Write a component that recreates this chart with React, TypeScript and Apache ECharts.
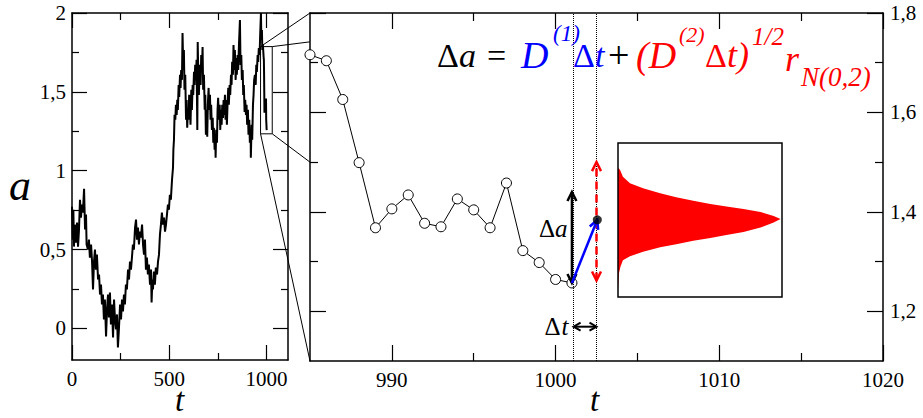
import React, { useEffect, useRef } from "react";
import * as echarts from "echarts";

// ---------- data ----------
const trajectory: [number, number][] = [
  [0, 0.772], [4, 0.563], [7, 0.753], [10, 0.519], [15, 0.658], [21, 0.544], [26, 0.671], [31, 0.519],
  [36, 0.627], [41, 0.816], [46, 0.703], [51, 0.785], [56, 0.734], [62, 0.886], [67, 0.627], [72, 0.722],
  [75, 0.532], [82, 0.5], [87, 0.563], [92, 0.449], [98, 0.532], [103, 0.424], [108, 0.247], [113, 0.424],
  [118, 0.5], [123, 0.373], [128, 0.468], [134, 0.31], [139, 0.342], [144, 0.215], [149, 0.278], [154, 0.152],
  [159, 0.215], [164, 0.057], [169, 0.184], [175, -0.051], [180, 0.12], [185, 0.215], [190, 0.07], [195, 0.228],
  [200, 0.025], [205, 0.152], [211, -0.057], [216, 0.184], [221, 0.057], [226, -0.006], [231, 0.089], [236, -0.12],
  [241, -0.006], [247, 0.152], [252, 0.057], [257, 0.184], [262, 0.108], [267, 0.215], [272, 0.152], [277, 0.278],
  [282, 0.247], [288, 0.373], [293, 0.31], [298, 0.424], [303, 0.373], [308, 0.449], [313, 0.532], [318, 0.5],
  [324, 0.639], [329, 0.69], [334, 0.563], [339, 0.639], [344, 0.532], [349, 0.614], [354, 0.576], [360, 0.658],
  [365, 0.532], [370, 0.468], [375, 0.563], [380, 0.373], [385, 0.449], [390, 0.342], [395, 0.405], [401, 0.278],
  [406, 0.373], [409, 0.165], [413, 0.31], [416, 0.247], [421, 0.361], [426, 0.278], [431, 0.386], [437, 0.342],
  [442, 0.424], [447, 0.468], [452, 0.595], [457, 0.658], [462, 0.734], [467, 0.658], [473, 0.703], [478, 0.614],
  [483, 0.658], [488, 0.722], [493, 0.785], [498, 0.753], [503, 0.848], [508, 0.816], [514, 0.943], [519, 1.019],
  [521, 1.133], [524, 1.196], [527, 1.354], [531, 1.323], [534, 1.418], [538, 1.354], [541, 1.449], [544, 1.386],
  [548, 1.544], [551, 1.468], [555, 1.608], [558, 1.525], [561, 1.639], [565, 1.576], [568, 1.873], [572, 1.639],
  [575, 1.766], [578, 1.513], [582, 1.608], [586, 1.323], [589, 1.449], [592, 1.272], [596, 1.386], [599, 1.323],
  [602, 1.481], [606, 1.418], [609, 1.291], [613, 1.513], [616, 1.386], [620, 1.544], [623, 1.481], [627, 1.627],
  [630, 1.544], [633, 1.671], [637, 1.576], [640, 1.703], [644, 1.259], [646, 1.816], [649, 1.608], [652, 1.481],
  [657, 1.671], [661, 1.544], [664, 1.734], [668, 1.639], [671, 1.785], [674, 1.513], [678, 1.608], [682, 1.386],
  [685, 1.481], [688, 1.228], [692, 1.386], [695, 1.215], [698, 1.418], [702, 1.525], [705, 1.386], [709, 1.481],
  [712, 1.323], [715, 1.418], [719, 1.259], [723, 1.335], [726, 1.177], [729, 1.272], [733, 1.133], [736, 1.228],
  [738, 1.082], [741, 1.259], [745, 1.177], [748, 1.386], [751, 1.462], [755, 1.323], [759, 1.418], [762, 1.259],
  [765, 1.386], [769, 1.291], [772, 1.418], [776, 1.335], [779, 1.449], [782, 1.354], [786, 1.481], [789, 1.323],
  [792, 1.449], [796, 1.291], [800, 1.449], [803, 1.525], [806, 1.418], [810, 1.544], [813, 1.481], [817, 1.608],
  [820, 1.544], [823, 1.69], [827, 1.608], [830, 1.797], [834, 1.639], [837, 1.766], [841, 1.576], [844, 1.715],
  [847, 1.608], [851, 1.734], [854, 1.639], [858, 1.797], [863, 1.956], [866, 1.671], [870, 1.734], [873, 1.576],
  [877, 1.639], [880, 1.481], [883, 1.544], [887, 1.373], [890, 1.449], [894, 1.354], [897, 1.418], [900, 1.291],
  [904, 1.386], [907, 1.228], [911, 1.323], [914, 1.177], [918, 1.259], [919, 1.082], [923, 1.291], [926, 1.196],
  [930, 1.418], [933, 1.481], [936, 1.576], [940, 1.608], [944, 1.544], [947, 1.671], [950, 1.627], [954, 1.734],
  [957, 1.69], [960, 1.778], [964, 1.734], [967, 1.861], [971, 2.0], [973, 1.829], [976, 1.892], [978, 1.766],
  [981, 1.797],
];

const zoomT = [985, 986, 987, 988, 989, 990, 991, 992, 993, 994, 995, 996, 997, 998, 999, 1000, 1001];
const zoomA = [1.716, 1.704, 1.626, 1.499, 1.368, 1.406, 1.434, 1.377, 1.37, 1.426, 1.404, 1.368, 1.458, 1.322, 1.298, 1.264, 1.257];

const forecastPoint: [number, number] = [1002.55, 1.384];
const stepStart = 1001.1;
const stepEnd = 1002.5;
const deltaARange = [1.257, 1.44];
const noiseRange = [1.262, 1.5];
const dtLevel = 1.169;

// probability profile of the noise term (a value, relative density)
const pdfA = [1.487, 1.483, 1.469, 1.456, 1.446, 1.436, 1.428, 1.421, 1.414, 1.409, 1.404, 1.398, 1.39, 1.384,
  1.377, 1.367, 1.358, 1.352, 1.346, 1.34, 1.333, 1.327, 1.318, 1.309, 1.301, 1.288, 1.275, 1.243];
const pdfDensity = [0, 0.012, 0.03, 0.073, 0.153, 0.257, 0.355, 0.459, 0.563, 0.661, 0.765, 0.869, 0.949, 0.991,
  0.949, 0.869, 0.765, 0.661, 0.563, 0.459, 0.355, 0.257, 0.153, 0.073, 0.03, 0.015, 0.006, 0.0];

// zoom rectangle drawn in the left panel
const zoomBoxT = [969, 1029];
const zoomBoxA = [1.234, 1.787];

// ticks
const leftXMajor = [0, 500, 1000];
const leftXMinor = [250, 750];
const leftYMajor = [0, 0.5, 1, 1.5, 2];
const leftYMinor = [0.25, 0.75, 1.25, 1.75];
const rightXMajor = [990, 1000, 1010, 1020];
const rightXMinor = [995, 1005, 1015];
const rightYMajor = [1.2, 1.4, 1.6, 1.8];
const rightYMinor = [1.3, 1.5, 1.7];

const SERIF = "'Liberation Serif', 'Times New Roman', serif";
const fmt = (v: number) => String(v).replace(".", ",");

function axis(grid: number, position: string, min: number, max: number, ticks: number[], len: number,
  line: boolean, labels?: number[], margin = 8) {
  return {
    type: "value", gridIndex: grid, position, min, max,
    axisLine: { show: line, onZero: false, lineStyle: { color: "#000", width: 1.5 } },
    axisTick: { show: ticks.length > 0, inside: true, length: len, customValues: ticks, lineStyle: { color: "#000", width: 1.2 } },
    axisLabel: labels
      ? { show: true, customValues: labels, formatter: fmt, fontFamily: SERIF, fontSize: 21, color: "#000", margin }
      : { show: false },
    splitLine: { show: false },
    minorTick: { show: false },
  };
}

function head(tip: number[], from: number[], len = 9, half = 4.5) {
  const dx = tip[0] - from[0], dy = tip[1] - from[1];
  const L = Math.hypot(dx, dy) || 1;
  const ux = dx / L, uy = dy / L;
  const bx = tip[0] - ux * len, by = tip[1] - uy * len;
  return [[bx - uy * half, by + ux * half], [tip[0], tip[1]], [bx + uy * half, by - ux * half]];
}

function txt(text: string, x: number, baseline: number, size: number, color: string, italic: boolean, z = 20) {
  return {
    type: "text", z, silent: true,
    style: {
      text, x, y: baseline - 0.34 * size, fill: color, align: "left", verticalAlign: "middle",
      lineHeight: Math.round(size * 0.72),
      font: `${italic ? "italic " : ""}normal ${size}px ${SERIF}`,
    },
  };
}

export default function App() {
  const ref = useRef<HTMLDivElement>(null);
  useEffect(() => {
    document.body.style.margin = "0";
    const chart = echarts.init(ref.current!, null, { renderer: "svg" });
    const option: any = {
      animation: false,
      backgroundColor: "#fff",
      grid: [
        { left: 72, top: 13, width: 216, height: 347 },
        { left: 310, top: 13, width: 573, height: 348 },
        { left: 618, top: 143, width: 164, height: 154, show: true, borderColor: "#000", borderWidth: 1.5, backgroundColor: "transparent", z: 3 },
      ],
      xAxis: [
        axis(0, "bottom", 0, 1110, leftXMajor, 15, true, leftXMajor, 8),
        axis(0, "bottom", 0, 1110, leftXMinor, 7, false),
        axis(0, "top", 0, 1110, leftXMajor, 15, true),
        axis(0, "top", 0, 1110, leftXMinor, 7, false),
        axis(1, "bottom", 985, 1020, rightXMajor, 16, true, rightXMajor, 8),
        axis(1, "bottom", 985, 1020, rightXMinor, 8, false),
        axis(1, "top", 985, 1020, rightXMajor, 16, true),
        axis(1, "top", 985, 1020, rightXMinor, 8, false),
        { type: "value", gridIndex: 2, min: 0, max: 1, show: false },
      ],
      yAxis: [
        axis(0, "left", -0.2, 2, leftYMajor, 15, true, leftYMajor, 6),
        axis(0, "left", -0.2, 2, leftYMinor, 7, false),
        axis(0, "right", -0.2, 2, leftYMajor, 15, true),
        axis(0, "right", -0.2, 2, leftYMinor, 7, false),
        axis(1, "left", 1.1, 1.8, rightYMajor, 16, true),
        axis(1, "left", 1.1, 1.8, rightYMinor, 8, false),
        axis(1, "right", 1.1, 1.8, rightYMajor, 16, true, rightYMajor, 7),
        axis(1, "right", 1.1, 1.8, rightYMinor, 8, false),
        { type: "value", gridIndex: 2, min: 1.227, max: 1.537, show: false },
      ],
      series: [
        {
          type: "line", xAxisIndex: 0, yAxisIndex: 0, showSymbol: false, symbol: "none",
          data: [...trajectory, ...zoomT.map((t, i) => [t, zoomA[i]])],
          lineStyle: { color: "#000", width: 2 }, z: 2,
        },
        {
          type: "line", xAxisIndex: 4, yAxisIndex: 4, clip: false,
          data: zoomT.map((t, i) => [t, zoomA[i]]),
          symbol: "circle", symbolSize: 10, showSymbol: true,
          itemStyle: { color: "#fff", borderColor: "#000", borderWidth: 1 },
          lineStyle: { color: "#000", width: 1 }, z: 4,
          markLine: {
            silent: true, symbol: ["none", "none"], label: { show: false },
            lineStyle: { type: "dotted", color: "#000", width: 1 },
            data: [{ xAxis: stepStart }, { xAxis: stepEnd }],
          },
        },
        {
          type: "scatter", xAxisIndex: 4, yAxisIndex: 4, data: [forecastPoint],
          symbolSize: 9, itemStyle: { color: "#000" }, z: 30,
        },
        {
          type: "custom", xAxisIndex: 8, yAxisIndex: 8, clip: true,
          data: pdfA.map((a, i) => [pdfDensity[i], a]),
          renderItem: (params: any, api: any) => {
            if (params.dataIndex !== 0) return { type: "group", children: [] };
            const pts = pdfA.map((a, i) => api.coord([pdfDensity[i], a]));
            const b0 = api.coord([0, pdfA[0]]);
            const b1 = api.coord([0, pdfA[pdfA.length - 1]]);
            return { type: "polygon", shape: { points: [b0, ...pts, b1] }, style: { fill: "#ff0000", stroke: "none" } };
          },
          z: 2,
        },
      ],
    };
    chart.setOption(option);

    const L = (p: number[]) => chart.convertToPixel({ xAxisIndex: 0, yAxisIndex: 0 }, p) as number[];
    const R = (p: number[]) => chart.convertToPixel({ xAxisIndex: 4, yAxisIndex: 4 }, p) as number[];
    const ln = { stroke: "#000", lineWidth: 1 };

    const bTL = L([zoomBoxT[0], zoomBoxA[1]]);
    const bBR = L([zoomBoxT[1], zoomBoxA[0]]);
    const g: any[] = [];
    g.push({ type: "rect", z: 10, shape: { x: bTL[0], y: bTL[1], width: bBR[0] - bTL[0], height: bBR[1] - bTL[1] }, style: { fill: "none", ...ln } });
    const conn = [
      [[zoomBoxT[0], zoomBoxA[1]], [985, 1.8]],
      [[zoomBoxT[1], zoomBoxA[1]], [985, 1.742]],
      [[zoomBoxT[1], zoomBoxA[0]], [985, 1.5]],
      [[zoomBoxT[0], zoomBoxA[0]], [985, 1.1]],
    ];
    conn.forEach(([a, b]) => {
      const p = L(a), q = R(b);
      g.push({ type: "line", z: 10, shape: { x1: p[0], y1: p[1], x2: q[0], y2: q[1] }, style: ln });
    });

    // delta a arrow (black)
    const da0 = R([zoomT[zoomT.length - 1], deltaARange[0]]);
    const da1 = R([zoomT[zoomT.length - 1], deltaARange[1]]);
    const blk = { stroke: "#000", lineWidth: 2.5, fill: "none" };
    g.push({ type: "line", z: 12, shape: { x1: da0[0], y1: da0[1], x2: da1[0], y2: da1[1] }, style: blk });
    g.push({ type: "polyline", z: 12, shape: { points: head(da1, da0) }, style: blk });
    g.push({ type: "polyline", z: 12, shape: { points: head(da0, da1) }, style: blk });

    // drift arrow (blue)
    const bl0 = R([zoomT[zoomT.length - 1], zoomA[zoomA.length - 1]]);
    const bl1 = R(forecastPoint);
    const blue = { stroke: "#0000ff", lineWidth: 2.5, fill: "none" };
    g.push({ type: "line", z: 13, shape: { x1: bl0[0], y1: bl0[1], x2: bl1[0], y2: bl1[1] }, style: blue });
    g.push({ type: "polyline", z: 13, shape: { points: head(bl1, bl0) }, style: blue });

    // noise arrow (red dashed)
    const n0 = R([stepEnd, noiseRange[0]]);
    const n1 = R([stepEnd, noiseRange[1]]);
    const red = { stroke: "#ff0000", lineWidth: 2.5, fill: "none" };
    g.push({ type: "line", z: 12, shape: { x1: n0[0], y1: n0[1], x2: n1[0], y2: n1[1] }, style: { ...red, lineDash: [8, 5] } });
    g.push({ type: "polyline", z: 12, shape: { points: head(n1, n0) }, style: red });
    g.push({ type: "polyline", z: 12, shape: { points: head(n0, n1) }, style: red });

    // delta t arrow
    const t0 = R([stepStart, dtLevel]);
    const t1 = R([stepEnd, dtLevel]);
    const blk2 = { stroke: "#000", lineWidth: 2, fill: "none" };
    g.push({ type: "line", z: 12, shape: { x1: t0[0], y1: t0[1], x2: t1[0], y2: t1[1] }, style: blk2 });
    g.push({ type: "polyline", z: 12, shape: { points: head(t0, t1, 7, 4) }, style: blk2 });
    g.push({ type: "polyline", z: 12, shape: { points: head(t1, t0, 7, 4) }, style: blk2 });

    // annotations
    g.push(txt("Δ", da1[0] - 33, 237, 25, "#000", false));
    g.push(txt("a", da1[0] - 17, 237, 25, "#000", true));
    g.push(txt("Δ", t0[0] - 29, 335, 25, "#000", false));
    g.push(txt("t", t0[0] - 12, 335, 25, "#000", true));

    // equation
    g.push(txt("Δ", 437, 67, 34, "#000", false));
    g.push(txt("a", 459, 67, 34, "#000", true));
    g.push(txt("=", 487, 67, 34, "#000", false));
    g.push(txt("D", 521, 68, 38, "#0000ff", true));
    g.push(txt("(1)", 553, 41, 23, "#0000ff", true));
    g.push(txt("Δ", 573, 67, 34, "#0000ff", false));
    g.push(txt("t", 595, 67, 34, "#0000ff", true));
    g.push(txt("+", 608, 68, 38, "#000", false));
    g.push(txt("(D", 636, 68, 38, "#ff0000", true));
    g.push(txt("(2)", 679, 42, 22, "#ff0000", true));
    g.push(txt("Δ", 705, 67, 34, "#ff0000", false));
    g.push(txt("t)", 727, 67, 36, "#ff0000", true));
    g.push(txt("1/2", 752, 45, 25, "#ff0000", true));
    g.push(txt("r", 785, 71, 36, "#ff0000", true));
    g.push(txt("N(0,2)", 801, 86, 27, "#ff0000", true));

    // axis titles
    g.push(txt("a", 9, 200, 44, "#000", true));
    g.push(txt("t", 175, 411, 33, "#000", true));
    g.push(txt("t", 590, 411, 33, "#000", true));

    chart.setOption({ graphic: g });
    return () => chart.dispose();
  }, []);
  return <div ref={ref} style={{ position: "absolute", left: 0, top: 0, width: 923, height: 418 }} />;
}
